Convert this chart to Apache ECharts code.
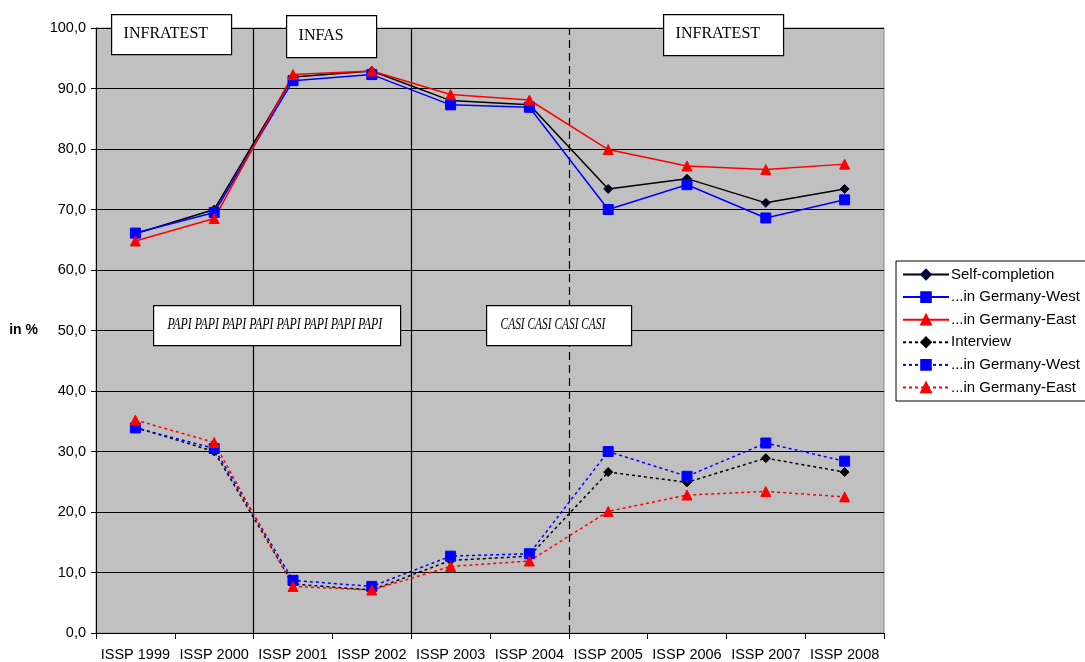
<!DOCTYPE html>
<html>
<head>
<meta charset="utf-8">
<script src="https://cdn.jsdelivr.net/npm/echarts@6/dist/echarts.min.js"></script>
<style>
  html, body { margin: 0; padding: 0; background: #fff; }
  #chart { width: 1085px; height: 662px; }
</style>
</head>
<body>
<div id="chart"></div>
<script>
    var years = ['ISSP 1999', 'ISSP 2000', 'ISSP 2001', 'ISSP 2002', 'ISSP 2003',
                 'ISSP 2004', 'ISSP 2005', 'ISSP 2006', 'ISSP 2007', 'ISSP 2008'];

    // self-completion shares
    var selfAll  = [66.0, 70.0, 91.9, 92.9, 88.0, 87.3, 73.4, 75.1, 71.1, 73.4];
    var selfWest = [66.1, 69.5, 91.3, 92.3, 87.3, 86.9, 70.0, 74.1, 68.6, 71.6];
    var selfEast = [64.8, 68.5, 92.3, 92.9, 89.0, 88.1, 79.9, 77.2, 76.6, 77.5];

    // interview shares
    var intAll  = [34.0, 30.0, 8.1, 7.1, 12.0, 12.7, 26.6, 24.9, 28.9, 26.6];
    var intWest = [33.9, 30.5, 8.7, 7.7, 12.7, 13.1, 30.0, 25.9, 31.4, 28.4];
    var intEast = [35.2, 31.5, 7.7, 7.1, 11.0, 11.9, 20.1, 22.8, 23.4, 22.5];

    var myChart = echarts.init(document.getElementById('chart'));
    var font = 'Liberation Sans, Arial, sans-serif';
    var serif = 'Liberation Serif, Times New Roman, serif';

    function line(name, data, color, symbol, size, dotted) {
        return {
            name: name,
            type: 'line',
            data: data,
            symbol: symbol,
            symbolSize: size,
            showSymbol: true,
            itemStyle: { color: color, borderColor: symbol == 'diamond' && !dotted ? '#000066' : color, borderWidth: 1 },
            lineStyle: { color: color, width: 1.5, type: dotted ? [3, 3] : 'solid' },
            z: 5
        };
    }

    function box(x, y, w, h, text, sx) {
        return {
            type: 'group',
            left: x, top: y,
            children: [{
                type: 'rect',
                shape: { x: 0, y: 0, width: w, height: h },
                style: { fill: '#fff', stroke: '#000', lineWidth: 1.2 },
                z: 10
            }, {
                type: 'text',
                x: sx ? 14 : 12, y: h / 2 - 1,
                scaleX: sx || 1,
                style: {
                    text: text, fill: '#000',
                    font: (sx ? 'italic 17px ' : '16px ') + serif,
                    verticalAlign: 'middle'
                },
                z: 11
            }]
        };
    }

    var option = {
        animation: false,
        backgroundColor: '#fff',
        grid: {
            left: 96, right: 201, top: 28, bottom: 28,
            show: true, backgroundColor: '#c0c0c0', borderColor: '#888', borderWidth: 1
        },
        legend: {
            orient: 'vertical',
            left: 896, top: 261,
            backgroundColor: '#fff',
            borderColor: '#000', borderWidth: 1, borderRadius: 0,
            padding: [6, 6, 6, 6],
            itemGap: 7.6,
            itemWidth: 46, itemHeight: 12,
            textStyle: { fontFamily: font, fontSize: 15, color: '#000', padding: [0, 0, 0, -3] },
            data: ['Self-completion', '...in Germany-West', '...in Germany-East',
                   'Interview', '...in Germany-West ', '...in Germany-East ']
        },
        xAxis: [{
            type: 'category',
            data: years,
            boundaryGap: true,
            axisLine: { lineStyle: { color: '#000' } },
            axisTick: { show: true, length: 6, lineStyle: { color: '#000' } },
            axisLabel: { fontFamily: font, fontSize: 14.5, color: '#000', margin: 14, interval: 0 },
            splitLine: { show: false }
        }, {
            type: 'value',
            min: 0, max: 10,
            show: false
        }],
        yAxis: {
            type: 'value',
            min: 0, max: 100, interval: 10,
            name: 'in %',
            nameLocation: 'middle',
            nameRotate: 0,
            nameGap: 58,
            nameTextStyle: { fontFamily: font, fontSize: 14, fontWeight: 'bold', color: '#000' },
            axisLine: { show: true, lineStyle: { color: '#000' } },
            axisTick: { show: true, length: 5, lineStyle: { color: '#000' } },
            axisLabel: {
                fontFamily: font, fontSize: 14.5, color: '#000', margin: 10,
                formatter: function (v) { return v.toFixed(1).replace('.', ','); }
            },
            splitLine: { show: true, lineStyle: { color: '#000', width: 1 } }
        },
        graphic: [
            box(111, 14, 120, 40, 'INFRATEST'),
            box(286, 15, 90, 42, 'INFAS'),
            box(663, 14, 120, 41, 'INFRATEST'),
            box(153, 305, 247, 40, 'PAPI PAPI PAPI PAPI PAPI PAPI PAPI PAPI', 0.7),
            box(486, 305, 145, 40, 'CASI CASI CASI CASI', 0.67)
        ],
        series: [
            line('Self-completion', selfAll, '#000', 'diamond', 9, false),
            line('...in Germany-West', selfWest, '#0000ff', 'rect', 10, false),
            line('...in Germany-East', selfEast, '#ff0000', 'triangle', 10, false),
            line('Interview', intAll, '#000', 'diamond', 9, true),
            line('...in Germany-West ', intWest, '#0000ff', 'rect', 10, true),
            line('...in Germany-East ', intEast, '#ff0000', 'triangle', 10, true),
            {
                // period separators between survey institutes
                type: 'line',
                xAxisIndex: 1,
                data: [],
                silent: true,
                markLine: {
                    symbol: 'none',
                    label: { show: false },
                    z: 3,
                    data: [
                        { xAxis: 2, lineStyle: { color: '#000', width: 1.2, type: 'solid' } },
                        { xAxis: 4, lineStyle: { color: '#000', width: 1.2, type: 'solid' } },
                        { xAxis: 6, lineStyle: { color: '#000', width: 1.2, type: [8, 5] } }
                    ]
                }
            }
        ]
    };
    myChart.setOption(option);
</script>
</body>
</html>
